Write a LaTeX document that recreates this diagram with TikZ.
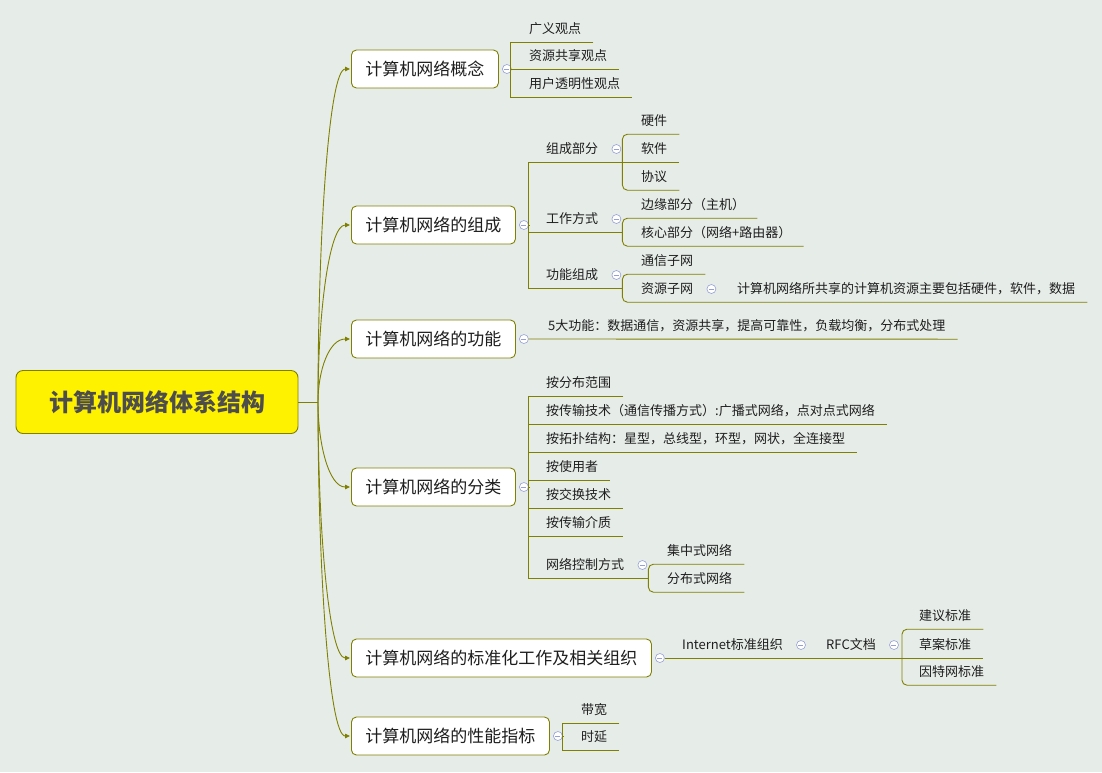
\documentclass[tikz,border=0pt]{standalone}
\usepackage{fontspec}
\setmainfont{Noto Sans CJK SC}
\usetikzlibrary{arrows.meta,calc}
\definecolor{linkolive}{RGB}{128,128,0}
\definecolor{rootgray}{RGB}{77,77,77}
\definecolor{textdark}{RGB}{30,30,30}
\definecolor{foldblue}{RGB}{150,160,215}
\definecolor{bgpaper}{RGB}{230,236,232}

\begin{document}
\begin{tikzpicture}[x=1pt,y=1pt,yscale=-1,xscale=1,
  link/.style={draw=linkolive, line width=0.9pt},
  stem/.style={link, -{Triangle[length=5pt,width=4.5pt]}, shorten >=1pt},
  rootbox/.style={draw=linkolive, fill=yellow, line width=0.9pt, rounded corners=7pt, minimum width=282pt, minimum height=63pt, text height=21pt, text depth=3pt, font=\fontsize{24pt}{26pt}\selectfont\bfseries, text=rootgray},
  branch/.style={draw=linkolive, fill=white, line width=0.9pt, rounded corners=5pt, anchor=west, inner xsep=14pt, minimum height=38pt, text height=15pt, text depth=2pt, font=\fontsize{17pt}{19pt}\selectfont, text=textdark},
  sub/.style={anchor=west, inner sep=0pt, minimum height=26pt, text height=11.4pt, text depth=1.6pt, font=\fontsize{13pt}{15pt}\selectfont, text=textdark},
  fold/.style={circle, draw=foldblue, fill=white, line width=0.6pt, inner sep=0pt, minimum size=9pt, path picture={\draw[foldblue, line width=0.6pt] ([xshift=2pt]path picture bounding box.west) -- ([xshift=-2pt]path picture bounding box.east);}}
]
%Background
\fill[bgpaper] (0,0) rectangle (1102,772);
\useasboundingbox (0,0) rectangle (1102,772);

%Root
\node[rootbox] (root) at (157,402) {计算机网络体系结构};
\coordinate (hub) at (318,402);

%Main branches
\node[branch] (b1) at (351,69) {计算机网络概念};
\node[branch] (b2) at (351,225) {计算机网络的组成};
\node[branch] (b3) at (351,339) {计算机网络的功能};
\node[branch] (b4) at (351,487) {计算机网络的分类};
\node[branch] (b5) at (351,658) {计算机网络的标准化工作及相关组织};
\node[branch] (b6) at (351,736) {计算机网络的性能指标};

%Curve Lines from root
\draw[link] (root.east) -- (hub);
\foreach \b in {b1,b2,b3,b4,b5,b6}
  \draw[stem] (hub) .. controls ($(hub)!0.5!(hub |- \b.west)$) and ([xshift=-22pt]\b.west) .. (\b.west);

% Text Nodes: 概念
\node[sub] (gy) at (529,29) {广义观点};
\node[sub] (zy) at (529,56) {资源共享观点};
\node[sub] (yh) at (529,84) {用户透明性观点};

% Text Nodes: 组成
\node[sub] (zc) at (546,149) {组成部分};
\node[sub] (yj) at (641,121) {硬件};
\node[sub] (rj) at (641,149) {软件};
\node[sub] (xy) at (641,177) {协议};
\node[sub] (gz) at (546,219) {工作方式};
\node[sub] (by) at (641,205) {边缘部分（主机）};
\node[sub] (hx) at (641,233) {核心部分（网络+路由器）};
\node[sub] (gn) at (546,275) {功能组成};
\node[sub] (tx) at (641,261) {通信子网};
\node[sub] (zw) at (641,289) {资源子网};
\node[sub] (zwd) at (737,289) {计算机网络所共享的计算机资源主要包括硬件，软件，数据};

% Text Nodes: 功能
\node[sub] (wd) at (548,326) {5大功能：数据通信，资源共享，提高可靠性，负载均衡，分布式处理};

% Text Nodes: 分类
\node[sub] (fb) at (546,383) {按分布范围};
\node[sub] (cs) at (546,411) {按传输技术（通信传播方式）:广播式网络，点对点式网络};
\node[sub] (tp) at (546,439) {按拓扑结构：星型，总线型，环型，网状，全连接型};
\node[sub] (sy) at (546,467) {按使用者};
\node[sub] (jh) at (546,495) {按交换技术};
\node[sub] (jz) at (546,523) {按传输介质};
\node[sub] (kz) at (546,565) {网络控制方式};
\node[sub] (jzs) at (667,551) {集中式网络};
\node[sub] (fbs) at (667,579) {分布式网络};

% Text Nodes: 标准化
\node[sub] (it) at (682,645) {Internet标准组织};
\node[sub] (rfc) at (826,645) {RFC文档};
\node[sub] (jy) at (919,616) {建议标准};
\node[sub] (ca) at (919,645) {草案标准};
\node[sub] (ytw) at (919,672) {因特网标准};

% Text Nodes: 性能
\node[sub] (dk) at (581,710) {带宽};
\node[sub] (yc) at (581,737) {时延};

%Spines
\coordinate (s1) at ([xshift=12pt]b1.east);
\coordinate (s2) at ([xshift=13pt]b2.east);
\coordinate (s4) at ([xshift=13pt]b4.east);
\coordinate (s6) at ([xshift=13pt]b6.east);
\coordinate (s21) at ([xshift=24pt]zc.east);
\coordinate (s22) at ([xshift=24pt]gz.east);
\coordinate (s23) at ([xshift=24pt]gn.east);
\coordinate (s41) at ([xshift=24pt]kz.east);
\coordinate (s51) at ([xshift=26pt]rfc.east);

%Fold buttons
\node[fold] (f1) at ([xshift=8pt]b1.east) {};
\node[fold] (f2) at ([xshift=8pt]b2.east) {};
\node[fold] (f3) at ([xshift=8pt]b3.east) {};
\node[fold] (f4) at ([xshift=8pt]b4.east) {};
\node[fold] (f5) at ([xshift=8pt]b5.east) {};
\node[fold] (f6) at ([xshift=8pt]b6.east) {};
\node[fold] (fz) at ([xshift=18pt]zc.east) {};
\node[fold] (fg) at ([xshift=18pt]gz.east) {};
\node[fold] (fn) at ([xshift=18pt]gn.east) {};
\node[fold] (fw) at ([xshift=18pt]zw.east) {};
\node[fold] (fk) at ([xshift=18pt]kz.east) {};
\node[fold] (fi) at ([xshift=18pt]it.east) {};
\node[fold] (fr) at ([xshift=18pt]rfc.east) {};

%Straight Lines: 概念
\draw[link] (f1.east) -- (s1);
\draw[link] ([xshift=12pt]gy.south east) -- (gy.south -| s1) -- (yh.south -| s1) -- ([xshift=12pt]yh.south east);
\draw[link] (zy.south -| s1) -- ([xshift=12pt]zy.south east);

%Straight Lines: 组成
\draw[link] (f2.east) -- (s2);
\draw[link] (zc.south -| s21) -- (zc.south -| s2) -- (gn.south -| s2) -- (gn.south -| s23);
\draw[link] (gz.south -| s2) -- (gz.south -| s22);
\draw[link, rounded corners=5pt] ([xshift=12pt]yj.south east) -- (yj.south -| s21) -- (xy.south -| s21) -- ([xshift=12pt]xy.south east);
\draw[link] (rj.south -| s21) -- ([xshift=12pt]rj.south east);
\draw[link, rounded corners=5pt] ([xshift=12pt]by.south east) -- (by.south -| s22) -- (hx.south -| s22) -- ([xshift=12pt]hx.south east);
\draw[link, rounded corners=5pt] ([xshift=12pt]tx.south east) -- (tx.south -| s23) -- (zw.south -| s23) -- ([xshift=12pt]zwd.south east);

%Straight Lines: 功能
\draw[link] (f3.east) -- ([xshift=12pt]wd.south east);

%Straight Lines: 分类
\draw[link] (f4.east) -- (s4);
\draw[link] ([xshift=12pt]fb.south east) -- (fb.south -| s4) -- (kz.south -| s4) -- (kz.south -| s41);
\foreach \n in {cs,tp,sy,jh,jz}
  \draw[link] (\n.south -| s4) -- ([xshift=12pt]\n.south east);
\draw[link, rounded corners=5pt] ([xshift=12pt]jzs.south east) -- (jzs.south -| s41) -- (fbs.south -| s41) -- ([xshift=12pt]fbs.south east);

%Straight Lines: 标准化
\draw[link] (f5.east) -- (f5.east -| s51);
\draw[link, rounded corners=5pt] ([xshift=12pt]jy.south east) -- (jy.south -| s51) -- (ytw.south -| s51) -- ([xshift=12pt]ytw.south east);
\draw[link] (ca.south -| s51) -- ([xshift=12pt]ca.south east);

%Straight Lines: 性能
\draw[link] (f6.east) -- (s6);
\draw[link] ([xshift=12pt]dk.south east) -- (dk.south -| s6) -- (yc.south -| s6) -- ([xshift=12pt]yc.south east);

\end{tikzpicture}
\end{document}
